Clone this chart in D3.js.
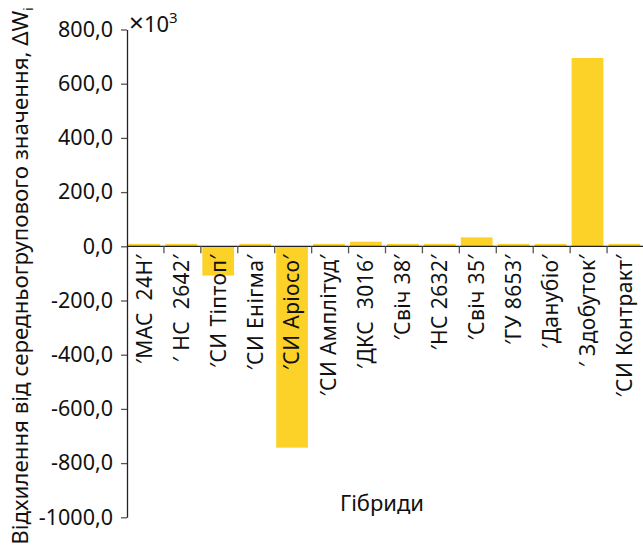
<!DOCTYPE html>
<html>
<head>
<meta charset="utf-8">
<script src="https://cdn.jsdelivr.net/npm/d3@7"></script>
<style>
  html, body { margin: 0; padding: 0; background: #fff; }
  svg { display: block; font-family: "Noto Sans", sans-serif; }
</style>
</head>
<body>
<svg id="chart" width="643" height="551"></svg>
<script>
const categories = [
  "′МАС  24Н′", "′ НС  2642′", "′СИ Тіптоп′", "′СИ Енігма′", "′СИ Аріосо′",
  "′СИ Амплітуд′", "′ДКС  3016′", "′Свіч 38′", "′НС 2632′", "′Свіч 35′",
  "′ГУ 8653′", "′Данубіо′", "′ Здобуток′", "′СИ Контракт′"
];
const values = [9, 9, -108, 9, -743, 9, 17, 9, 9, 33, 9, 9, 695, 9];
const yTicks = [800, 600, 400, 200, 0, -200, -400, -600, -800, -1000];
const yTitle = "Відхилення від середньогрупового значення, ΔW";
const xTitle = "Гібриди";

const svg = d3.select("#chart");
const x = d3.scaleBand().domain(categories).range([127, 644]).padding(0);
const y = d3.scaleLinear().domain([-1000, 800]).range([517.3, 29.5]);
const fmt = d => d.toFixed(1).replace(".", ",");
const bw = x.bandwidth();

// bars
svg.append("g").selectAll("rect").data(values).join("rect")
  .attr("x", (d, i) => x(categories[i]) + bw * 0.04)
  .attr("width", bw * 0.86)
  .attr("y", d => y(Math.max(0, d)))
  .attr("height", d => Math.abs(y(d) - y(0)))
  .attr("fill", "#FDD228");

// y axis
const yAxis = svg.append("g").attr("transform", "translate(127,0)")
  .call(d3.axisLeft(y).tickValues(yTicks).tickFormat(fmt).tickSize(6).tickPadding(8).tickSizeOuter(0));
yAxis.select(".domain").attr("stroke", "#222").attr("stroke-width", 1.3);
yAxis.selectAll(".tick line").attr("stroke", "#555").attr("stroke-width", 1.3);
yAxis.selectAll(".tick text").attr("font-size", 21.5).attr("fill", "#111")
  .attr("font-family", "Noto Sans");

// x axis (ticks at band boundaries)
const xAxis = svg.append("g").attr("transform", `translate(0,${y(0)})`);
xAxis.append("line").attr("x1", 127).attr("x2", 643).attr("y1", 0).attr("y2", 0)
  .attr("stroke", "#222").attr("stroke-width", 1.3);
xAxis.selectAll("line.tk").data(categories.slice(1)).join("line").attr("class", "tk")
  .attr("x1", d => x(d)).attr("x2", d => x(d)).attr("y1", 0).attr("y2", 7)
  .attr("stroke", "#555").attr("stroke-width", 1.3);
xAxis.selectAll("text").data(categories).join("text")
  .attr("transform", d => `translate(${x(d) + bw * 0.47},8) rotate(-90)`)
  .attr("text-anchor", "end").attr("dy", "0.35em")
  .attr("font-size", 21).attr("letter-spacing", 0.4).attr("fill", "#111")
  .style("white-space", "pre")
  .text(d => d);

// multiplier
const mult = svg.append("text").attr("x", 129).attr("y", 32).attr("font-size", 22).attr("fill", "#111");
mult.append("tspan").attr("font-size", 26).text("×");
mult.append("tspan").text("10");
mult.append("tspan").attr("dy", -9).attr("font-size", 15).text("3");

// y title
const yt = svg.append("text").attr("transform", `translate(28,276) rotate(-90)`)
  .attr("text-anchor", "middle").attr("font-size", 22.3).attr("fill", "#111");
yt.append("tspan").text(yTitle);
yt.append("tspan").attr("dy", 5).attr("font-size", 13).text("i");

// x title
svg.append("text").attr("x", 382).attr("y", 511).attr("text-anchor", "middle")
  .attr("font-size", 22).attr("fill", "#111").text(xTitle);
</script>
</body>
</html>
